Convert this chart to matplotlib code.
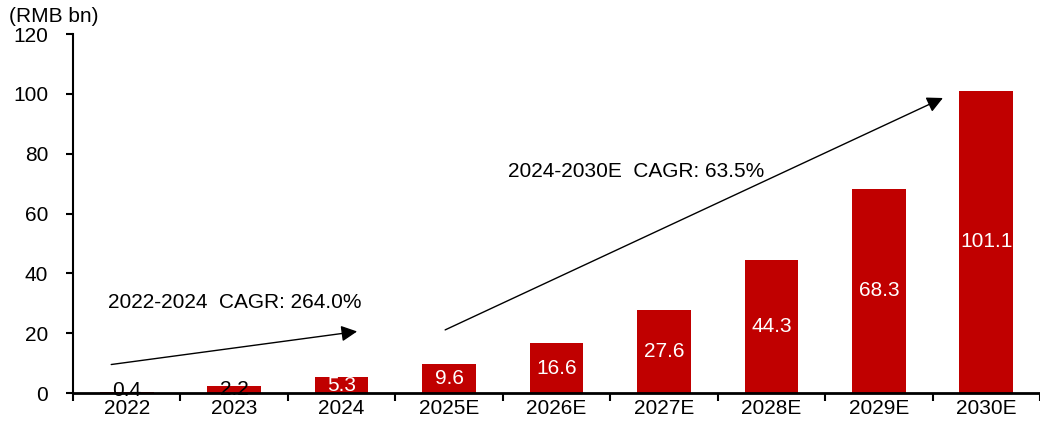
import matplotlib
matplotlib.use("Agg")
import matplotlib.pyplot as plt
import numpy as np

plt.rcParams["font.family"] = ["Liberation Sans", "DejaVu Sans"]

years = ["2022", "2023", "2024", "2025E", "2026E", "2027E", "2028E", "2029E", "2030E"]
values = [0.4, 2.2, 5.3, 9.6, 16.6, 27.6, 44.3, 68.3, 101.1]
label_colors = ["black", "black", "white", "white", "white", "white", "white", "white", "white"]

bar_color = "#C00000"
fs = 15

fig = plt.figure(figsize=(10.4, 4.23), dpi=100)
ax = fig.add_axes([0.0702, 0.0709, 0.9298, 0.8487])

x = np.arange(len(years))
bars = ax.bar(x, values, width=0.5, color=bar_color, zorder=2)

# value labels centred in each bar (small bars get a minimum height)
for b, v, c in zip(bars, values, label_colors):
    ax.text(b.get_x() + b.get_width() / 2, max(v / 2, 1.0), f"{v:.1f}",
            ha="center", va="center", color=c, fontsize=fs, zorder=3)

ax.set_xlim(-0.5, 8.41)
ax.set_ylim(0, 120)
ax.set_yticks(range(0, 121, 20))
ax.tick_params(axis="y", labelsize=fs, length=5, width=1.5, direction="out", pad=13)

# category labels centred, ticks sitting between categories
ax.set_xticks(x)
ax.set_xticklabels(years, fontsize=fs)
ax.tick_params(axis="x", which="major", length=0, pad=4)
ax.set_xticks(np.arange(-0.5, len(years), 1), minor=True)
ax.tick_params(axis="x", which="minor", length=6, width=1.5, direction="out")

for side in ["top", "right"]:
    ax.spines[side].set_visible(False)
ax.spines["left"].set_linewidth(1.5)
ax.spines["bottom"].set_linewidth(2)

# growth arrows
ax.annotate("", xy=(2.17, 20.7), xytext=(-0.17, 9.4),
            arrowprops=dict(arrowstyle="-|>", color="black", lw=1, mutation_scale=24))
ax.annotate("", xy=(7.62, 99), xytext=(2.94, 20.7),
            arrowprops=dict(arrowstyle="-|>", color="black", lw=1, mutation_scale=24))

ax.text(-0.17, 30.4, "2022-2024  CAGR: 264.0%", fontsize=fs, ha="left", va="center")
ax.text(3.55, 74.2, "2024-2030E  CAGR: 63.5%", fontsize=fs, ha="left", va="center")

fig.text(0.009, 0.96, "(RMB bn)", fontsize=fs, ha="left", va="center")

fig.savefig("out.png", dpi=100)
